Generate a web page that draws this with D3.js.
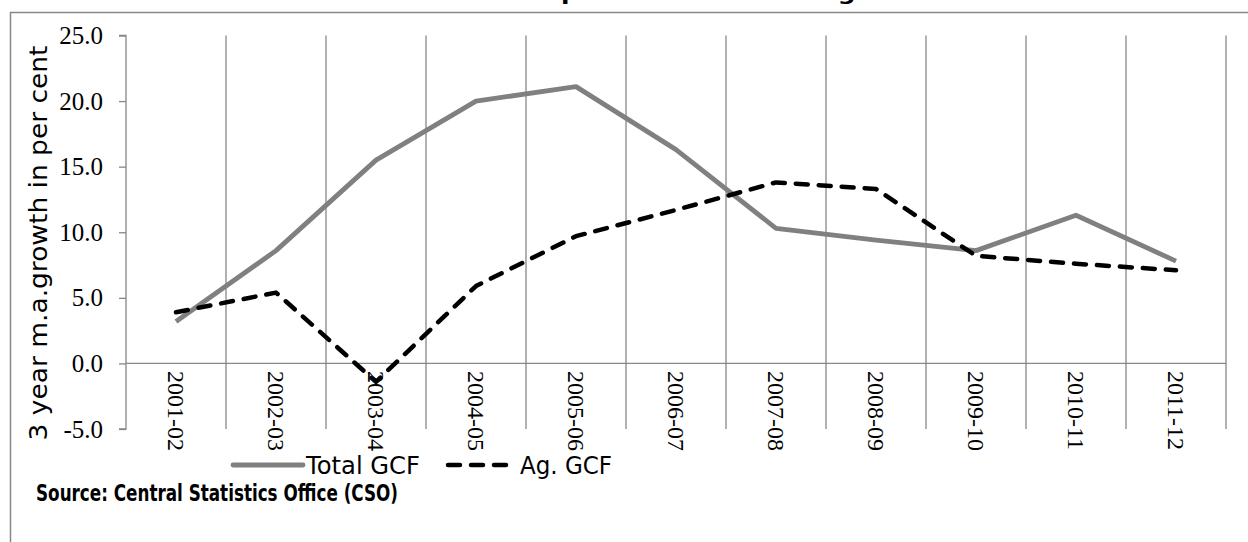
<!DOCTYPE html>
<html><head><meta charset="utf-8">
<script src="https://cdn.jsdelivr.net/npm/d3@7"></script>
<style>
html,body{margin:0;padding:0;background:#fff;}
svg{display:block;}
svg text.serif{font-family:"Liberation Serif" !important;}
</style></head>
<body>
<svg id="chart" width="1248" height="542" font-family="DejaVu Sans"></svg>
<script>
const categories = ["2001-02","2002-03","2003-04","2004-05","2005-06","2006-07","2007-08","2008-09","2009-10","2010-11","2011-12"];
const totalGCF = [3.2, 8.6, 15.5, 20.0, 21.1, 16.3, 10.3, 9.4, 8.6, 11.3, 7.8];
const agGCF    = [3.9, 5.4, -1.4, 5.9, 9.7, 11.7, 13.8, 13.3, 8.2, 7.6, 7.1];
const yTicks = [-5, 0, 5, 10, 15, 20, 25];
const seriesNames = ["Total GCF", "Ag. GCF"];
const titleText = "Trends in Capital Formation in Agriculture";
const sourceText = "Source: Central Statistics Office (CSO)";
const yLabel = "3 year m.a.growth in per cent";

const svg = d3.select("#chart");
const grid = "#878787";
const SANS = '"DejaVu Sans"';

// outer border
svg.append("rect").attr("x",10.5).attr("y",12.5).attr("width",1260).attr("height",560)
  .attr("fill","none").attr("stroke",grid).attr("stroke-width",1.5);

// clipped title (only descenders visible, as in the reference)
const title = svg.append("text").attr("y",0).style("font-family",SANS).style("font-weight","bold")
  .style("font-size","20px").attr("fill","#000").text(titleText);
const tn = title.node();
const pIdx = titleText.indexOf("p"), gIdx = titleText.indexOf("g");
const px = tn.getStartPositionOfChar(pIdx).x, gx = tn.getStartPositionOfChar(gIdx).x;
const k = (838 - 561) / (gx - px);
title.attr("transform", `translate(561,0) scale(${k},1) translate(${-px},0)`);

const x = d3.scaleBand().domain(categories).range([126,1226]).padding(0);
const y = d3.scaleLinear().domain([-5,25]).range([429,35.5]);

// vertical gridlines at category boundaries
const bounds = categories.map(c => x(c) + x.bandwidth());
svg.append("g").selectAll("line").data(bounds).join("line")
  .attr("x1",d=>d).attr("x2",d=>d).attr("y1",y(25)).attr("y2",y(-5))
  .attr("stroke",grid).attr("stroke-width",1.3);

// y axis
const fmt = d => d3.format(".1f")(d).replace("\u2212","-");
const yAxis = svg.append("g").attr("transform","translate(126,0)")
  .call(d3.axisLeft(y).tickValues(yTicks).tickFormat(fmt).tickSize(7).tickPadding(16));
yAxis.attr("font-family","Liberation Serif").attr("font-size",25);
yAxis.select(".domain").attr("stroke",grid).attr("stroke-width",1.3).attr("d",`M-7,${y(25)}H0V${y(-5)}H-7`);
yAxis.selectAll(".tick line").attr("stroke",grid).attr("stroke-width",1.3);
yAxis.selectAll(".tick text").attr("class","serif").attr("font-family","Liberation Serif")
  .style("font-size","25px").attr("fill","#000");

// x axis at zero
svg.append("line").attr("x1",126).attr("x2",1226).attr("y1",y(0)).attr("y2",y(0))
  .attr("stroke",grid).attr("stroke-width",1.3);
svg.append("g").attr("font-family","Liberation Serif").selectAll("text").data(categories).join("text")
  .attr("class","serif").attr("font-family","Liberation Serif")
  .attr("transform",d=>`translate(${x(d)+x.bandwidth()/2-8},371) rotate(90)`)
  .style("font-size","24px").attr("fill","#000")
  .text(d=>d);

// lines
const line = d3.line().x((d,i)=>x(categories[i])+x.bandwidth()/2).y(d=>y(d));
svg.append("path").datum(totalGCF).attr("d",line).attr("fill","none")
  .attr("stroke","#808080").attr("stroke-width",4.8).attr("stroke-linejoin","round");
svg.append("path").datum(agGCF).attr("d",line).attr("fill","none")
  .attr("stroke","#000").attr("stroke-width",4.5).attr("stroke-dasharray","12,11")
  .attr("stroke-linecap","round").attr("stroke-linejoin","round");

// y label
svg.append("text").attr("transform","translate(47,243) rotate(-90)")
  .attr("text-anchor","middle").style("font-family",SANS).style("font-size","24px")
  .attr("textLength",395).attr("lengthAdjust","spacingAndGlyphs").attr("fill","#000").text(yLabel);

// legend
svg.append("line").attr("x1",233).attr("x2",303).attr("y1",465).attr("y2",465)
  .attr("stroke","#808080").attr("stroke-width",4.8).attr("stroke-linecap","round");
svg.append("text").attr("x",306).attr("y",474).style("font-family",SANS).style("font-size","24px")
  .attr("textLength",114).attr("lengthAdjust","spacingAndGlyphs").attr("fill","#000").text(seriesNames[0]);
svg.append("line").attr("x1",448).attr("x2",510).attr("y1",465).attr("y2",465)
  .attr("stroke","#000").attr("stroke-width",4.5).attr("stroke-dasharray","12,11").attr("stroke-linecap","round");
svg.append("text").attr("x",520).attr("y",474).style("font-family",SANS).style("font-size","24px")
  .attr("textLength",92).attr("lengthAdjust","spacingAndGlyphs").attr("fill","#000").text(seriesNames[1]);

// source
svg.append("text").attr("x",36).attr("y",501).style("font-family",SANS).style("font-weight","bold")
  .style("font-size","23px").attr("textLength",362).attr("lengthAdjust","spacingAndGlyphs")
  .attr("fill","#000").text(sourceText);
</script>
</body></html>
